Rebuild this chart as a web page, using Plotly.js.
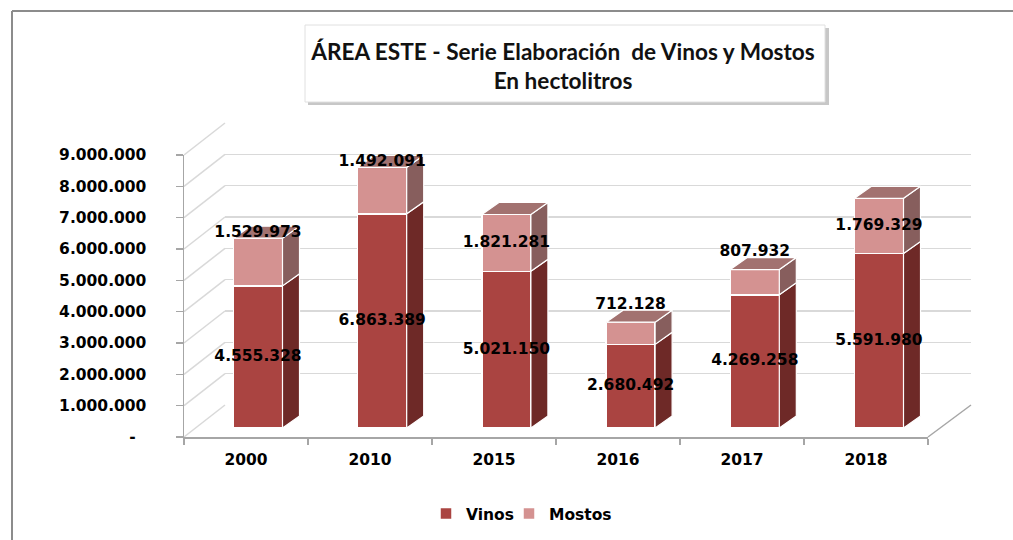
<!DOCTYPE html>
<html>
<head>
<meta charset="utf-8">
<script src="https://cdn.plot.ly/plotly-3.0.1.min.js"></script>
<style>html,body{margin:0;padding:0;background:#fff;}#chart{width:1013px;height:540px;}</style>
</head>
<body>
<div id="chart"></div>
<script>
// ---- data ----
const years = ['2000', '2010', '2015', '2016', '2017', '2018'];
const vinos = [4555328, 6863389, 5021150, 2680492, 4269258, 5591980];
const mostos = [1529973, 1492091, 1821281, 712128, 807932, 1769329];
const yTickVals = [0, 1000000, 2000000, 3000000, 4000000, 5000000, 6000000, 7000000, 8000000, 9000000];

// ---- helpers ----
const W = 1013, H = 540;
const PX = p => p / W;
const PY = p => (H - p) / H;
function fmt(n) {
  return String(Math.round(n)).replace(/\B(?=(\d{3})+(?!\d))/g, '.');
}
const yTickText = yTickVals.map(v => v === 0 ? '-\u00a0\u00a0' : fmt(v));

const cVinos = 'rgb(170,68,65)', cVinosSide = 'rgb(110,41,39)';
const cMostos = 'rgb(212,146,145)', cMostosSide = 'rgb(135,94,93)', cMostosTop = 'rgb(162,114,112)';
const bw = 0.3945;          // bar width (category units)
const ddx = 0.137;          // 3D depth in x (category units)
const ddy = 385000;         // 3D depth in y (value units)
const font = {family: 'DejaVu Sans', size: 15.5, color: '#000', weight: 'bold'};

const xs = years.map((_, i) => i);
const totals = vinos.map((v, i) => v + mostos[i]);

const traces = [];
// back wall helper trace
traces.push({type: 'scatter', x: [0, 1], y: [null, null], xaxis: 'x', yaxis: 'y',
  mode: 'markers', showlegend: false, hoverinfo: 'skip'});
// bars
traces.push({type: 'bar', name: 'Vinos', x: xs, y: vinos, width: bw, xaxis: 'x2', yaxis: 'y2',
  legend: 'legend',
  marker: {color: cVinos, line: {color: '#fff', width: 1.5}}, hoverinfo: 'skip'});
traces.push({type: 'bar', name: 'Mostos', x: xs, y: mostos, width: bw, xaxis: 'x2', yaxis: 'y2',
  legend: 'legend2',
  marker: {color: cMostos, line: {color: '#fff', width: 1.5}}, hoverinfo: 'skip'});
// 3D faces derived from values
function face(px, py, color) {
  traces.push({type: 'scatter', x: px, y: py, xaxis: 'x2', yaxis: 'y2', mode: 'lines',
    fill: 'toself', fillcolor: color, line: {color: '#fff', width: 1.2},
    showlegend: false, hoverinfo: 'skip'});
}
xs.forEach((i, k) => {
  const R = i + bw / 2, L = i - bw / 2;
  const v = vinos[k], t = totals[k];
  face([R, R + ddx, R + ddx, R, R], [0, ddy, v + ddy, v, 0], cVinosSide);
  face([R, R + ddx, R + ddx, R, R], [v, v + ddy, t + ddy, t, v], cMostosSide);
  face([L, R, R + ddx, L + ddx, L], [t, t, t + ddy, t + ddy, t], cMostosTop);
});
// labels
traces.push({type: 'scatter', mode: 'text', x: xs, y: vinos.map(v => v / 2),
  text: vinos.map(fmt), textfont: font, xaxis: 'x2', yaxis: 'y2', cliponaxis: false,
  showlegend: false, hoverinfo: 'skip'});
traces.push({type: 'scatter', mode: 'text', x: xs,
  y: mostos.map((m, k) => m >= 1700000 ? vinos[k] + m / 2 : (m >= 1000000 ? totals[k] + 170000 : totals[k] + 550000)),
  text: mostos.map(fmt), textfont: font, xaxis: 'x2', yaxis: 'y2', cliponaxis: false,
  showlegend: false, hoverinfo: 'skip'});
// front axis helper trace
traces.push({type: 'scatter', x: years, y: years.map(() => null), xaxis: 'x3', yaxis: 'y3',
  mode: 'markers', showlegend: false, hoverinfo: 'skip'});

// frame shapes
const shapes = [];
const gridGrey = '#D9D9D9', axisGrey = '#A6A6A6';
yTickVals.forEach(v => {
  const yf = 437 - v / 1e6 * 31.33, yb = 405 - v / 1e6 * 31.33;
  shapes.push({type: 'line', xref: 'paper', yref: 'paper', x0: PX(184), y0: PY(yf), x1: PX(225), y1: PY(yb),
    line: {color: gridGrey, width: 1.5}, layer: 'below'});
});
shapes.push({type: 'line', xref: 'paper', yref: 'paper', x0: PX(928), y0: PY(437), x1: PX(971), y1: PY(405),
  line: {color: axisGrey, width: 1.5}, layer: 'below'});
// chart border (left & top)
shapes.push({type: 'line', xref: 'paper', yref: 'paper', x0: PX(12), y0: PY(11), x1: PX(1013), y1: PY(11),
  line: {color: '#8C8C8C', width: 2}, layer: 'below'});
shapes.push({type: 'line', xref: 'paper', yref: 'paper', x0: PX(12), y0: PY(11), x1: PX(12), y1: PY(540),
  line: {color: '#8C8C8C', width: 2}, layer: 'below'});
// title box with shadow
shapes.push({type: 'rect', xref: 'paper', yref: 'paper', x0: PX(308), y0: PY(105), x1: PX(829), y1: PY(28),
  fillcolor: 'rgba(0,0,0,0.22)', line: {width: 0}, layer: 'below'});
shapes.push({type: 'rect', xref: 'paper', yref: 'paper', x0: PX(305), y0: PY(102), x1: PX(825), y1: PY(25),
  fillcolor: '#fff', line: {color: '#E0E0E0', width: 1}, layer: 'below'});

const legendBase = {orientation: 'h', xanchor: 'left', y: PY(514), yanchor: 'middle',
  font: font, bgcolor: 'rgba(0,0,0,0)', itemwidth: 30};

const layout = {
  width: W, height: H,
  margin: {l: 0, r: 0, t: 0, b: 0, pad: 0},
  paper_bgcolor: '#fff', plot_bgcolor: 'rgba(0,0,0,0)',
  separators: ',.',
  barmode: 'stack',
  showlegend: true,
  title: {text: 'ÁREA ESTE - Serie Elaboración  de Vinos y Mostos<br>En hectolitros',
    x: PX(563), xanchor: 'center', y: PY(60), yanchor: 'middle',
    font: {family: 'Lato', size: 22.6, color: '#111', weight: 'bold'}},
  legend: Object.assign({x: PX(426)}, legendBase),
  legend2: Object.assign({x: PX(509)}, legendBase),
  // back wall
  xaxis: {domain: [PX(225), PX(971)], range: [0, 1], visible: false, fixedrange: true},
  yaxis: {domain: [PY(405), PY(123)], range: [-2000, 9002000], anchor: 'x',
    tickvals: yTickVals, showgrid: true, gridcolor: gridGrey, gridwidth: 1.5,
    showticklabels: false, ticks: '', zeroline: false, showline: false, fixedrange: true},
  // bars
  xaxis2: {domain: [PX(195.9), PX(941.1)], range: [-0.5, 5.5], anchor: 'y2', visible: false, fixedrange: true},
  yaxis2: {domain: [PY(428), PY(147.2)], range: [0, 9000000], anchor: 'x2', visible: false, fixedrange: true},
  // front axes
  xaxis3: {domain: [PX(184), PX(928)], anchor: 'y3', type: 'category', categoryarray: years,
    categoryorder: 'array', range: [-0.5, 5.5],
    showline: true, linecolor: axisGrey, linewidth: 1.5, ticks: 'outside', tickson: 'boundaries',
    ticklen: 6, tickcolor: axisGrey, tickwidth: 1.5, showgrid: false, zeroline: false,
    tickfont: font, ticklabelstandoff: 8, fixedrange: true},
  yaxis3: {domain: [PY(437), PY(155)], anchor: 'x3', range: [0, 9000000],
    tickvals: yTickVals, ticktext: yTickText, showline: true, linecolor: axisGrey, linewidth: 1.5,
    ticks: 'outside', ticklen: 7, tickcolor: axisGrey, tickwidth: 1.5, showgrid: false, zeroline: false,
    tickfont: font, ticklabelstandoff: 26, fixedrange: true},
  shapes: shapes
};

Plotly.newPlot('chart', traces, layout, {staticPlot: true, displayModeBar: false});
</script>
</body>
</html>
